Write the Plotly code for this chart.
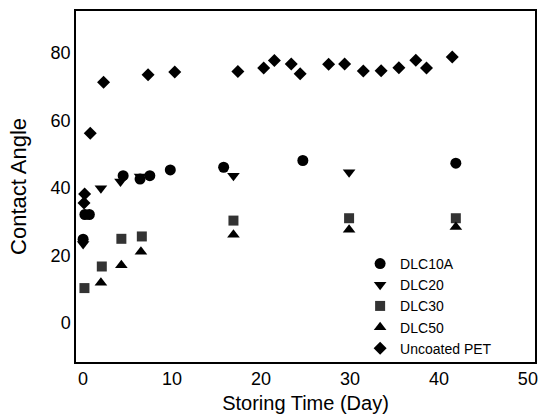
import plotly.graph_objects as go

# Data
dlc10a_x = [0.0, 0.2, 0.7, 4.5, 6.4, 7.5, 9.8, 15.8, 24.7, 41.9]
dlc10a_y = [24.8, 32.1, 32.1, 43.6, 42.6, 43.6, 45.3, 46.1, 48.1, 47.3]

dlc20_x = [0.0, 2.0, 4.2, 6.4, 16.9, 29.9]
dlc20_y = [23.4, 39.9, 41.9, 43.4, 43.6, 44.6]

dlc30_x = [0.15, 2.1, 4.3, 6.6, 16.9, 29.9, 41.9]
dlc30_y = [10.3, 16.7, 24.9, 25.6, 30.3, 31.0, 31.0]

dlc50_x = [2.0, 4.3, 6.5, 16.9, 29.9, 41.9]
dlc50_y = [11.9, 17.1, 21.1, 26.1, 27.6, 28.4]

pet_x = [0.1, 0.17, 0.8, 2.3, 7.3, 10.3, 17.4, 20.3, 21.5, 23.4, 24.4,
         27.6, 29.4, 31.5, 33.5, 35.5, 37.4, 38.6, 41.5]
pet_y = [35.5, 38.2, 56.2, 71.3, 73.5, 74.3, 74.5, 75.5, 77.7, 76.7, 73.8,
         76.6, 76.7, 74.6, 74.7, 75.6, 77.8, 75.5, 78.8]

x_ticks = [0, 10, 20, 30, 40, 50]
y_ticks = [0, 20, 40, 60, 80]

series = [
    ("DLC10A", dlc10a_x, dlc10a_y, "circle", 11, "black"),
    ("DLC20", dlc20_x, dlc20_y, "triangle-down", 11, "black"),
    ("DLC30", dlc30_x, dlc30_y, "square", 10, "#333333"),
    ("DLC50", dlc50_x, dlc50_y, "triangle-up", 11, "black"),
    ("Uncoated PET", pet_x, pet_y, "diamond", 10, "black"),
]

fig = go.Figure()
for name, xs, ys, sym, size, col in series:
    fig.add_trace(go.Scatter(
        x=xs, y=ys, mode="markers", name=name,
        marker=dict(symbol=sym, size=size, color=col, line=dict(width=0)),
    ))

font_family = "Liberation Sans, Arial, sans-serif"

fig.update_layout(
    width=544, height=417,
    margin=dict(l=76, r=6, t=11, b=55),
    paper_bgcolor="white", plot_bgcolor="white",
    font=dict(family=font_family, size=18, color="black"),
    showlegend=True,
    legend=dict(
        x=0.619, y=0.325, xanchor="left", yanchor="top",
        bgcolor="rgba(0,0,0,0)", font=dict(size=14),
        tracegroupgap=0, itemwidth=30,
    ),
)
fig.update_xaxes(
    range=[-0.8, 50.8], tickvals=x_ticks, ticktext=[str(v) for v in x_ticks],
    showgrid=False, zeroline=False, showline=True, linecolor="black",
    linewidth=1.5, mirror=True, ticks="", ticklen=0,
    tickfont=dict(size=18),
    title=dict(text="Storing Time (Day)", font=dict(size=20), standoff=8),
)
fig.update_yaxes(
    range=[-11.6, 92.4], tickvals=y_ticks, ticktext=[str(v) for v in y_ticks],
    showgrid=False, zeroline=False, showline=True, linecolor="black",
    linewidth=1.5, mirror=True, ticks="", ticklen=0,
    tickfont=dict(size=18),
    title=dict(text="Contact Angle", font=dict(size=22), standoff=18),
)

fig.write_html("out.html")
